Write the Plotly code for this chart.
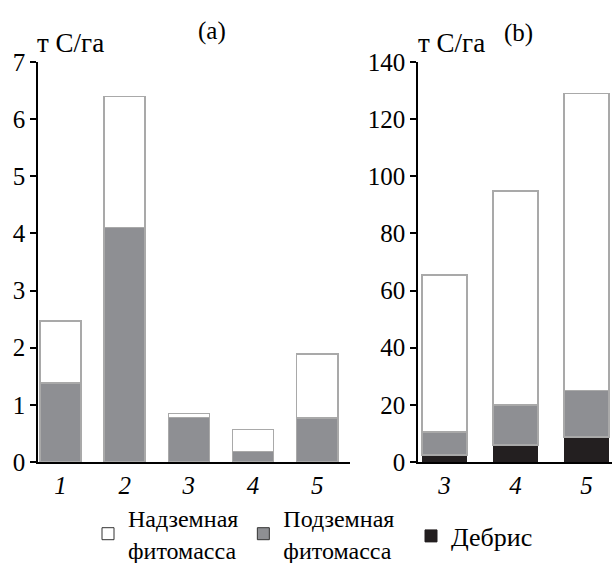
import plotly.graph_objects as go

# Panel (a)
cats_a = ["1", "2", "3", "4", "5"]
below_a = [1.38, 4.1, 0.78, 0.18, 0.77]      # Подземная фитомасса
above_a = [1.09, 2.3, 0.07, 0.39, 1.12]      # Надземная фитомасса (stacked on top)

# Panel (b)
cats_b = ["3", "4", "5"]
debris_b = [2.5, 6.0, 8.8]                   # Дебрис
below_b = [8.0, 14.0, 16.2]                  # Подземная фитомасса
above_b = [55.0, 74.8, 104.0]                # Надземная фитомасса

yticks_a = [0, 1, 2, 3, 4, 5, 6, 7]
yticks_b = [0, 20, 40, 60, 80, 100, 120, 140]

WHITE = "#ffffff"
GRAY = "#8e8f93"
BLACK = "#231f20"
EDGE = "#a9a9a9"
FONT = "Liberation Serif"

fig = go.Figure()
line = dict(color=EDGE, width=1.5)

fig.add_trace(go.Bar(x=cats_b, y=debris_b, marker=dict(color=BLACK, line=dict(color=BLACK, width=1)),
                     xaxis="x2", yaxis="y2", showlegend=False, width=0.63))
fig.add_trace(go.Bar(x=cats_a, y=below_a, marker=dict(color=GRAY, line=line),
                     xaxis="x", yaxis="y", showlegend=False, width=0.64))
fig.add_trace(go.Bar(x=cats_b, y=below_b, marker=dict(color=GRAY, line=line),
                     xaxis="x2", yaxis="y2", showlegend=False, width=0.63))
fig.add_trace(go.Bar(x=cats_a, y=above_a, marker=dict(color=WHITE, line=line),
                     xaxis="x", yaxis="y", showlegend=False, width=0.64))
fig.add_trace(go.Bar(x=cats_b, y=above_b, marker=dict(color=WHITE, line=line),
                     xaxis="x2", yaxis="y2", showlegend=False, width=0.63))

# legend-only proxies
fig.add_trace(go.Bar(x=[None], y=[None], marker=dict(color=WHITE, line=dict(color="#333333", width=1)),
                     name="Надземная<br>фитомасса", legendrank=1, xaxis="x", yaxis="y"))
fig.add_trace(go.Bar(x=[None], y=[None], marker=dict(color=GRAY, line=dict(color="#333333", width=1)),
                     name="Подземная<br>фитомасса", legendrank=2, xaxis="x", yaxis="y"))
fig.add_trace(go.Bar(x=[None], y=[None], marker=dict(color=BLACK, line=dict(color=BLACK, width=1)),
                     name="Дебрис", legendrank=3, xaxis="x", yaxis="y", legend="legend2"))

W, H = 612, 563
y0_px, y1_px = 462, 62
ydom = [(H - y0_px) / H, (H - y1_px) / H]

axis_common = dict(showline=True, linecolor="black", linewidth=1.5, showgrid=False,
                   zeroline=False, ticks="outside", tickcolor="black", ticklen=6,
                   tickwidth=1.5, automargin=False,
                   tickfont=dict(family=FONT, size=25, color="black"))
xaxis_common = dict(type="category", showline=True, linecolor="black", linewidth=1.5,
                    ticks="", showgrid=False, automargin=False,
                    tickfont=dict(family=FONT, size=25, color="black", style="italic"))

fig.update_layout(
    width=W, height=H,
    margin=dict(l=0, r=0, t=0, b=0, autoexpand=False),
    paper_bgcolor="white", plot_bgcolor="white",
    barmode="stack",
    font=dict(family=FONT, size=25, color="black"),
    xaxis=dict(domain=[38 / W, 350 / W], range=[-0.35, 4.51], anchor="y", **xaxis_common),
    yaxis=dict(domain=ydom, range=[0, 7], tickvals=yticks_a, anchor="x", **axis_common),
    xaxis2=dict(domain=[418 / W, 1.0], range=[-0.373, 2.36], anchor="y2", **xaxis_common),
    yaxis2=dict(domain=ydom, range=[0, 140], tickvals=yticks_b, anchor="x2", **axis_common),
    legend=dict(orientation="h", x=88 / W, xanchor="left", y=1 - 496 / H, yanchor="top",
                font=dict(family=FONT, size=24, color="black"), traceorder="normal",
                bgcolor="rgba(0,0,0,0)", itemwidth=30, valign="middle"),
    legend2=dict(orientation="h", x=411 / W, xanchor="left", y=1 - 536 / H, yanchor="middle",
                 font=dict(family=FONT, size=26, color="black"),
                 bgcolor="rgba(0,0,0,0)", itemwidth=30),
    annotations=[
        dict(text="(a)", x=212 / W, y=1 - 31 / H, xref="paper", yref="paper",
             xanchor="center", yanchor="middle", showarrow=False, font=dict(family=FONT, size=25)),
        dict(text="(b)", x=518 / W, y=1 - 33 / H, xref="paper", yref="paper",
             xanchor="center", yanchor="middle", showarrow=False, font=dict(family=FONT, size=25)),
        dict(text="т C/га", x=35 / W, y=1 - 43 / H, xref="paper", yref="paper",
             xanchor="left", yanchor="middle", showarrow=False, font=dict(family=FONT, size=27)),
        dict(text="т C/га", x=416 / W, y=1 - 43 / H, xref="paper", yref="paper",
             xanchor="left", yanchor="middle", showarrow=False, font=dict(family=FONT, size=27)),
    ],
)

fig.write_html("out.html")
